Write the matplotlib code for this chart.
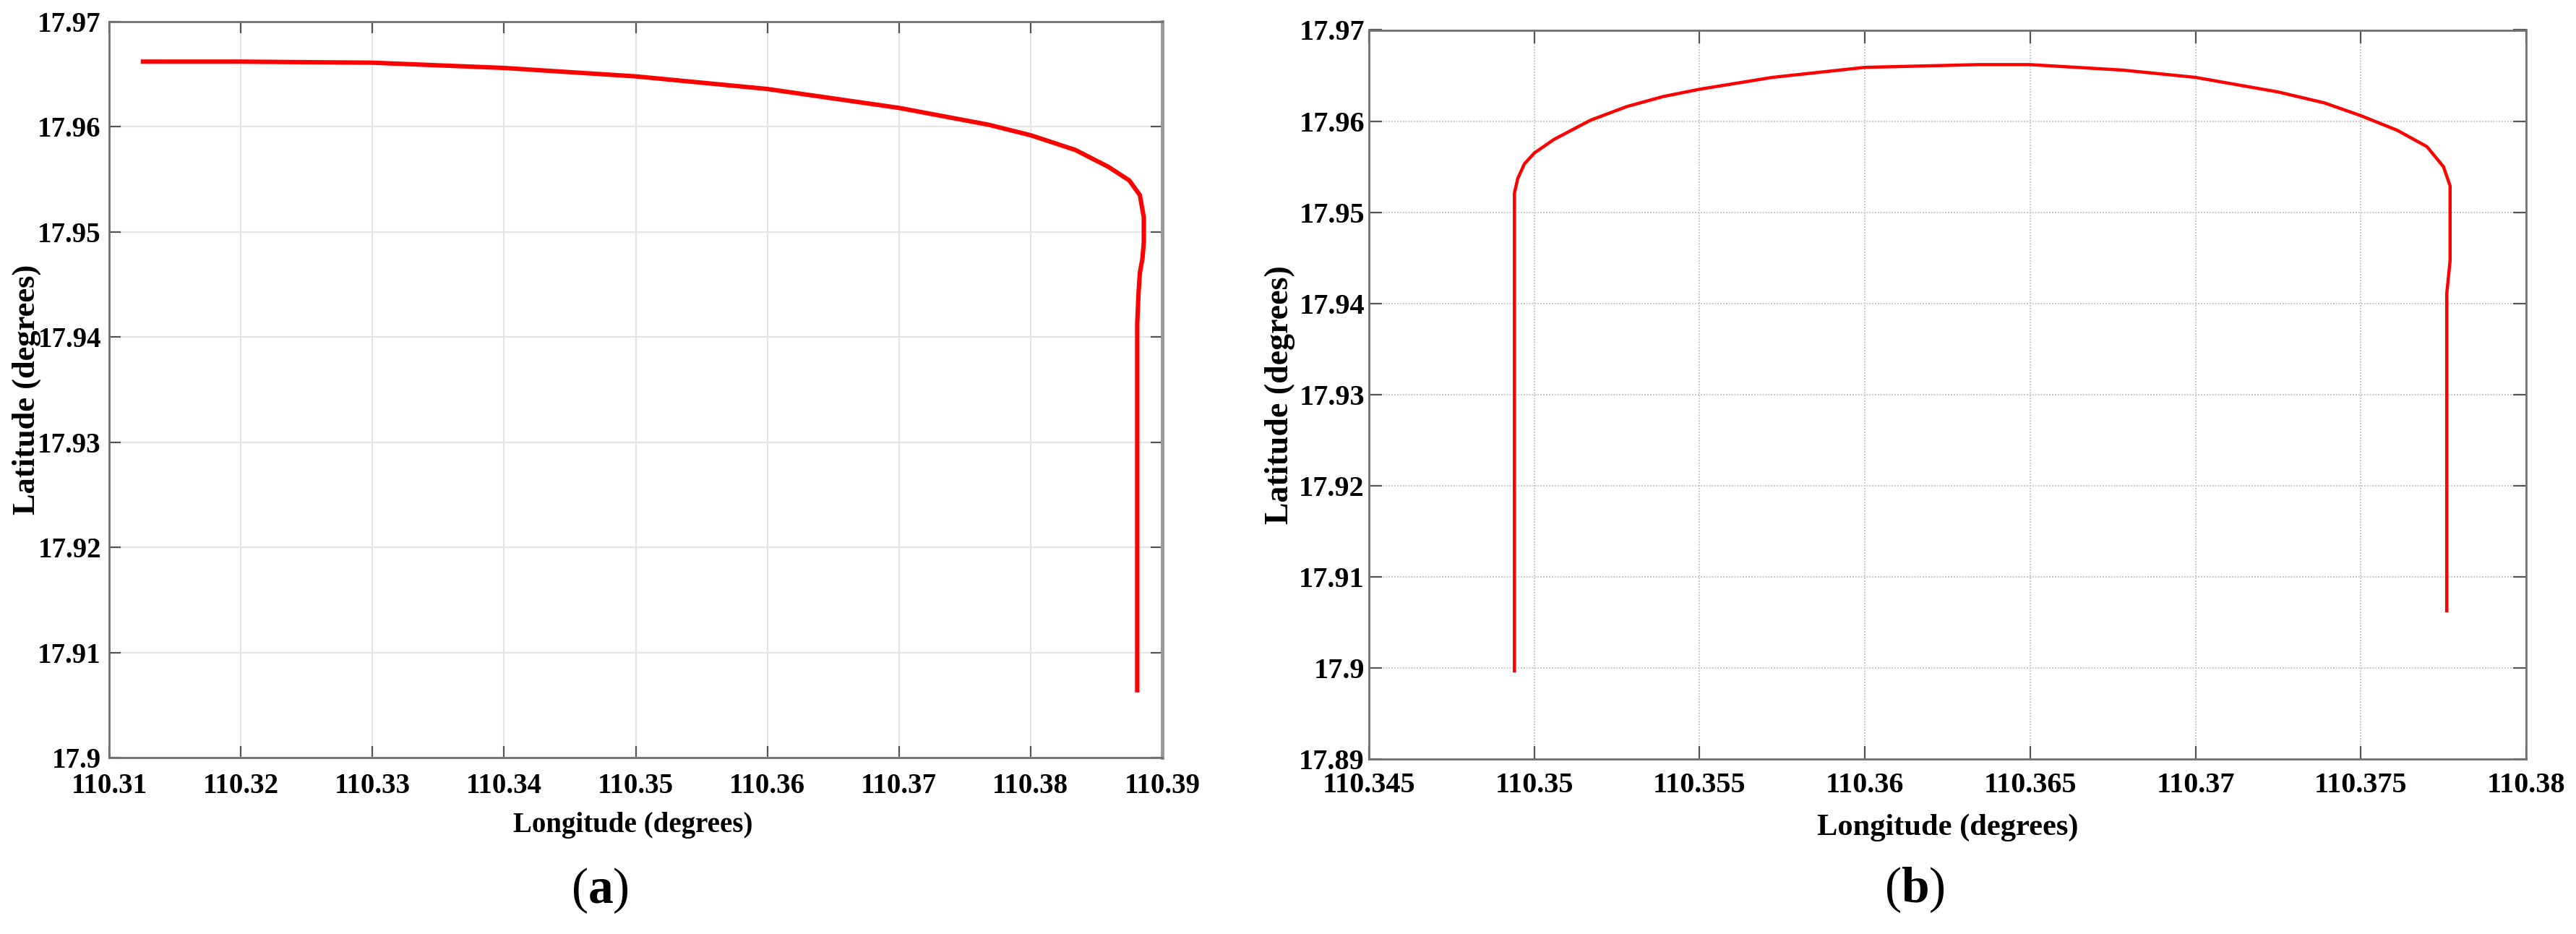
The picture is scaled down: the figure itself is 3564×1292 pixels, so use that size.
import matplotlib
matplotlib.use("Agg")
import matplotlib.pyplot as plt

plt.rcParams['font.family'] = ['Liberation Serif', 'DejaVu Serif']
plt.rcParams['mathtext.fontset'] = 'custom'
plt.rcParams['mathtext.rm'] = 'Liberation Serif'
plt.rcParams['mathtext.bf'] = 'Liberation Serif:bold'

# track (a): longitude / latitude
lon_a = [110.3124, 110.32, 110.33, 110.34, 110.35, 110.36, 110.37, 110.3768,
         110.38, 110.3834, 110.3859, 110.3875, 110.3883, 110.3886, 110.3886,
         110.3885, 110.3883, 110.3882, 110.3881, 110.3881, 110.3881]
lat_a = [17.9662, 17.9662, 17.9661, 17.9656, 17.9648, 17.9636, 17.9618, 17.9602,
         17.9592, 17.9578, 17.9562, 17.9549, 17.9535, 17.9514, 17.9490,
         17.9475, 17.9461, 17.9442, 17.9413, 17.9300, 17.9062]

# track (b)
lon_b = [110.3494, 110.3494, 110.3495, 110.3497, 110.3500, 110.3506, 110.3517,
         110.3528, 110.3539, 110.3550, 110.3572, 110.3600, 110.3634, 110.3650,
         110.3678, 110.3700, 110.3725, 110.3739, 110.3750, 110.3761, 110.3770,
         110.3775, 110.3777, 110.3777, 110.3777, 110.3776, 110.3776]
lat_b = [17.8995, 17.9521, 17.9537, 17.9553, 17.9565, 17.9580, 17.9601,
         17.9616, 17.9627, 17.9635, 17.9648, 17.9659, 17.9662, 17.9662,
         17.9656, 17.9648, 17.9632, 17.9620, 17.9606, 17.9590, 17.9572,
         17.9550, 17.9529, 17.9500, 17.9447, 17.9411, 17.9061]

xticks_a = [110.31, 110.32, 110.33, 110.34, 110.35, 110.36, 110.37, 110.38, 110.39]
xlabels_a = ['110.31', '110.32', '110.33', '110.34', '110.35', '110.36', '110.37', '110.38', '110.39']
yticks_a = [17.90, 17.91, 17.92, 17.93, 17.94, 17.95, 17.96, 17.97]
ylabels_a = ['17.9', '17.91', '17.92', '17.93', '17.94', '17.95', '17.96', '17.97']

xticks_b = [110.345, 110.35, 110.355, 110.36, 110.365, 110.37, 110.375, 110.38]
xlabels_b = ['110.345', '110.35', '110.355', '110.36', '110.365', '110.37', '110.375', '110.38']
yticks_b = [17.89, 17.90, 17.91, 17.92, 17.93, 17.94, 17.95, 17.96, 17.97]
ylabels_b = ['17.89', '17.9', '17.91', '17.92', '17.93', '17.94', '17.95', '17.96', '17.97']

W, H = 3564, 1292
fig = plt.figure(figsize=(W / 200, H / 200), dpi=200)


def px_axes(x0, y0, x1, y1):
    return fig.add_axes([x0 / W, 1 - y1 / H, (x1 - x0) / W, (y1 - y0) / H])


def style(ax, fs, xpad, ypad, tlen):
    for s in ax.spines.values():
        s.set_color('#707070')
        s.set_linewidth(1.0)
    ax.tick_params(direction='in', top=True, right=True, length=tlen, width=0.8,
                   color='#555555', labelsize=fs)
    ax.tick_params(axis='x', pad=xpad)
    ax.tick_params(axis='y', pad=ypad)
    for lab in ax.get_xticklabels() + ax.get_yticklabels():
        lab.set_fontweight('bold')


# (a)
ax1 = px_axes(151, 30, 1608, 1048)
ax1.plot(lon_a, lat_a, color='#ff0000', lw=2.2, solid_capstyle='butt', solid_joinstyle='round')
ax1.set_xlim(110.31, 110.39)
ax1.set_ylim(17.90, 17.97)
ax1.set_xticks(xticks_a)
ax1.set_xticklabels(xlabels_a)
ax1.set_yticks(yticks_a)
ax1.set_yticklabels(ylabels_a)
ax1.grid(True, color='#e4e4e4', lw=0.8, ls='-')
ax1.set_axisbelow(True)
style(ax1, 14, 7.5, 4.0, 5.8)
ax1.spines['right'].set_linewidth(1.8)
ax1.spines['right'].set_color('#9a9a9a')

# (b)
ax2 = px_axes(1894, 41.5, 3495, 1050)
ax2.plot(lon_b, lat_b, color='#ff0000', lw=1.6, solid_capstyle='butt', solid_joinstyle='round')
ax2.set_xlim(110.345, 110.38)
ax2.set_ylim(17.89, 17.97)
ax2.set_xticks(xticks_b)
ax2.set_xticklabels(xlabels_b)
ax2.set_yticks(yticks_b)
ax2.set_yticklabels(ylabels_b)
ax2.grid(True, color='#c8c8c8', lw=0.7, ls=(0, (1, 1)))
ax2.set_axisbelow(True)
style(ax2, 14.5, 6.5, 2.2, 6.5)

# labels
def ftext(x, y, s, **kw):
    fig.text(x / W, 1 - y / H, s, ha='center', va='center', **kw)


ftext(37, 539, 'Latitude (degrees)', rotation=90, fontsize=16, fontweight='bold')
ftext(876, 1142, 'Longitude (degrees)', fontsize=14, fontweight='bold')
ftext(1771, 546, 'Latitude (degrees)', rotation=90, fontsize=16.5, fontweight='bold')
ftext(2695, 1145, 'Longitude (degrees)', fontsize=15.3, fontweight='bold')
ftext(830, 1232, r'($\mathbf{a}$)', fontsize=25)
ftext(2649, 1231, r'($\mathbf{b}$)', fontsize=25)

fig.savefig('out.png', dpi=200, facecolor='white')
